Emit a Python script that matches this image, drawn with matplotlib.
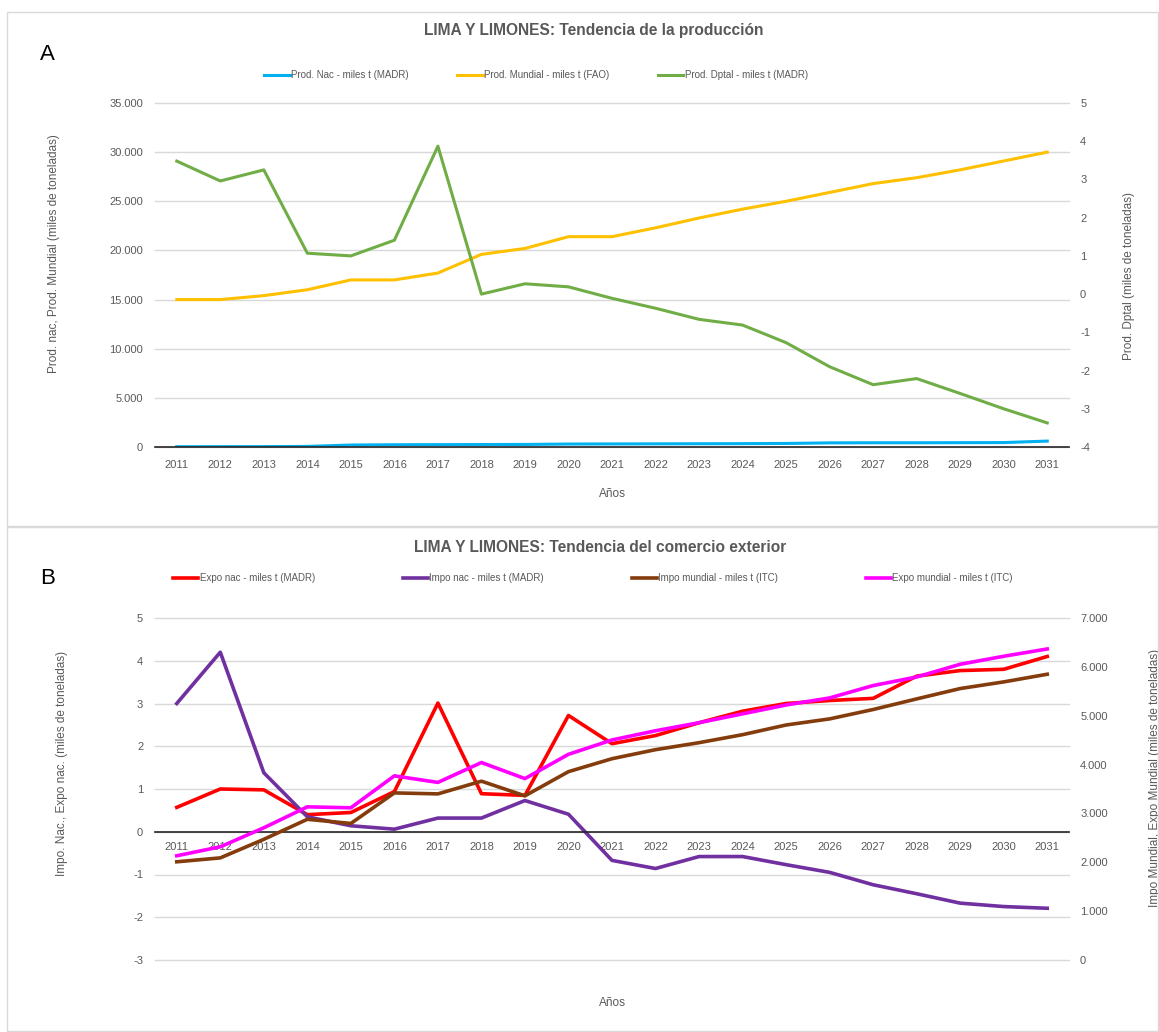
import matplotlib.pyplot as plt
from matplotlib.patches import Rectangle
from matplotlib.ticker import FuncFormatter, MultipleLocator

plt.rcParams['font.family'] = ['Liberation Sans', 'DejaVu Sans']
plt.rcParams['axes.unicode_minus'] = False

years = [str(y) for y in range(2011, 2032)]

# Producción (miles de toneladas)
prod_nac = [30, 35, 40, 60, 200, 230, 240, 250, 260, 300, 310,
            320, 330, 340, 360, 420, 430, 430, 440, 450, 600]
prod_mundial = [15000, 15000, 15400, 16000, 17000, 17000, 17700, 19600, 20200, 21400, 21400,
                22300, 23300, 24200, 25000, 25900, 26800, 27400, 28200, 29100, 30000]
prod_dptal = [3.48, 2.96, 3.25, 1.07, 1.0, 1.41, 3.87, 0.0, 0.27, 0.19, -0.11,
              -0.37, -0.66, -0.81, -1.27, -1.9, -2.37, -2.21, -2.6, -3.0, -3.37]

# Comercio exterior (miles de toneladas)
expo_nac = [0.57, 1.0, 0.98, 0.40, 0.45, 0.94, 3.01, 0.89, 0.85, 2.72, 2.06,
            2.25, 2.55, 2.82, 3.0, 3.07, 3.12, 3.64, 3.77, 3.80, 4.1]
impo_nac = [3.0, 4.2, 1.38, 0.35, 0.14, 0.06, 0.32, 0.32, 0.73, 0.41, -0.67,
            -0.86, -0.58, -0.58, -0.77, -0.95, -1.24, -1.45, -1.67, -1.75, -1.79]
impo_mundial = [2010, 2090, 2470, 2880, 2795, 3420, 3400, 3660, 3360, 3855, 4120,
                4305, 4448, 4612, 4810, 4935, 5127, 5344, 5556, 5692, 5849]
expo_mundial = [2133, 2317, 2706, 3135, 3115, 3769, 3635, 4042, 3713, 4210, 4504,
                4692, 4857, 5038, 5220, 5364, 5617, 5793, 6053, 6217, 6366]

W, H = 1159, 1032
GRAY = '#595959'
TICK = 8


def box(x0, y0, x1, y1):
    return [x0 / W, 1 - y1 / H, (x1 - x0) / W, (y1 - y0) / H]


def miles(v, pos):
    return f"{int(round(v)):,}".replace(',', '.')


def style_axes(ax, ax2, xpad):
    x = range(len(years))
    ax.set_xlim(-0.5, len(years) - 0.5)
    ax.set_xticks(list(x))
    ax.set_xticklabels(years)
    ax.grid(axis='y', color='#d9d9d9', lw=1)
    ax.set_axisbelow(True)
    for g in ax.get_ygridlines():
        g.set_clip_on(False)
    for a in (ax, ax2):
        for s in ('top', 'left', 'right', 'bottom'):
            a.spines[s].set_visible(False)
        a.tick_params(length=0, labelsize=TICK, labelcolor=GRAY)
    ax.spines['bottom'].set_visible(True)
    ax.spines['bottom'].set_color('#262626')
    ax.spines['bottom'].set_linewidth(1.2)
    ax.tick_params(axis='x', pad=xpad)
    ax.tick_params(axis='y', pad=8.5)
    ax2.tick_params(axis='y', pad=8)


fig = plt.figure(figsize=(W / 100, H / 100), dpi=100)

# panel frames
for y0, y1 in ((12, 526), (527, 1031)):
    fig.patches.append(Rectangle((7 / W, 1 - y1 / H), (1158 - 7) / W, (y1 - y0) / H,
                                 transform=fig.transFigure, fill=False,
                                 edgecolor='#d9d9d9', lw=1))

# ---- A: producción ----
ax = fig.add_axes(box(155, 103, 1069, 447))
ax2 = ax.twinx()
x = range(len(years))
l1, = ax.plot(x, prod_nac, color='#00B0F0', lw=2.2, label='Prod. Nac - miles t (MADR)')
l2, = ax.plot(x, prod_mundial, color='#FFC000', lw=2.2, label='Prod. Mundial - miles t (FAO)')
l3, = ax2.plot(x, prod_dptal, color='#70AD47', lw=2.2, label='Prod. Dptal - miles t (MADR)')
ax.set_ylim(0, 35000)
ax.yaxis.set_major_locator(MultipleLocator(5000))
ax.yaxis.set_major_formatter(FuncFormatter(miles))
ax2.set_ylim(-4, 5)
ax2.yaxis.set_major_locator(MultipleLocator(1))
style_axes(ax, ax2, 9.5)

ax.set_xlabel('Años', fontsize=8.5, color=GRAY, labelpad=13)
ax.set_ylabel('Prod. nac, Prod. Mundial (miles de toneladas)', fontsize=8.5, color=GRAY)
ax.yaxis.set_label_coords((60 - 155) / 914, (447 - 254) / 344)
ax2.set_ylabel('Prod. Dptal (miles de toneladas)', fontsize=8.5, color=GRAY)
ax2.yaxis.set_label_coords((1123 - 155) / 914, (447 - 276) / 344)

fig.text(594 / W, 1 - 31 / H, 'LIMA Y LIMONES: Tendencia de la producción',
         ha='center', va='center', fontsize=11.2, fontweight='bold', color=GRAY)
fig.legend(handles=[l1, l2, l3], loc='center', bbox_to_anchor=(536 / W, 1 - 75 / H),
           ncol=3, frameon=False, fontsize=7, labelcolor=GRAY, handlelength=2.6,
           handletextpad=0.15, columnspacing=5.0)
fig.text(40 / W, 1 - 55 / H, 'A', fontsize=16, va='center', ha='left')

# ---- B: comercio exterior ----
bx = fig.add_axes(box(155, 618, 1069, 960))
bx2 = bx.twinx()
m1, = bx.plot(x, expo_nac, color='#FF0000', lw=2.6, label='Expo nac - miles t (MADR)')
m2, = bx.plot(x, impo_nac, color='#7030A0', lw=2.6, label='Impo nac - miles t (MADR)')
m3, = bx2.plot(x, impo_mundial, color='#843C0C', lw=2.6, label='Impo mundial - miles t (ITC)')
m4, = bx2.plot(x, expo_mundial, color='#FF00FF', lw=2.6, label='Expo mundial - miles t (ITC)')
bx.set_ylim(-3, 5)
bx.yaxis.set_major_locator(MultipleLocator(1))
bx2.set_ylim(0, 7000)
bx2.yaxis.set_major_locator(MultipleLocator(1000))
bx2.yaxis.set_major_formatter(FuncFormatter(miles))
style_axes(bx, bx2, 7.5)
bx.spines['bottom'].set_position(('data', 0))

fig.text(612 / W, 1 - 1003 / H, 'Años', fontsize=8.5, color=GRAY, ha='center', va='center')
bx.set_ylabel('Impo. Nac., Expo nac. (miles de toneladas)', fontsize=8.5, color=GRAY)
bx.yaxis.set_label_coords((68 - 155) / 914, (960 - 763) / 342)
bx2.set_ylabel('Impo Mundial, Expo Mundial (miles de toneladas)', fontsize=8.5, color=GRAY)
bx2.yaxis.set_label_coords((1149 - 155) / 914, (960 - 778) / 342)

fig.text(600 / W, 1 - 548 / H, 'LIMA Y LIMONES: Tendencia del comercio exterior',
         ha='center', va='center', fontsize=11.2, fontweight='bold', color=GRAY)
fig.legend(handles=[m1, m2, m3, m4], loc='center', bbox_to_anchor=(593 / W, 1 - 578 / H),
           ncol=4, frameon=False, fontsize=7, labelcolor=GRAY, handlelength=2.6,
           handletextpad=0.15, columnspacing=9.0)
fig.text(40 / W, 1 - 578 / H, 'B', fontsize=16, va='center', ha='left')

fig.savefig('out.png', dpi=100)
